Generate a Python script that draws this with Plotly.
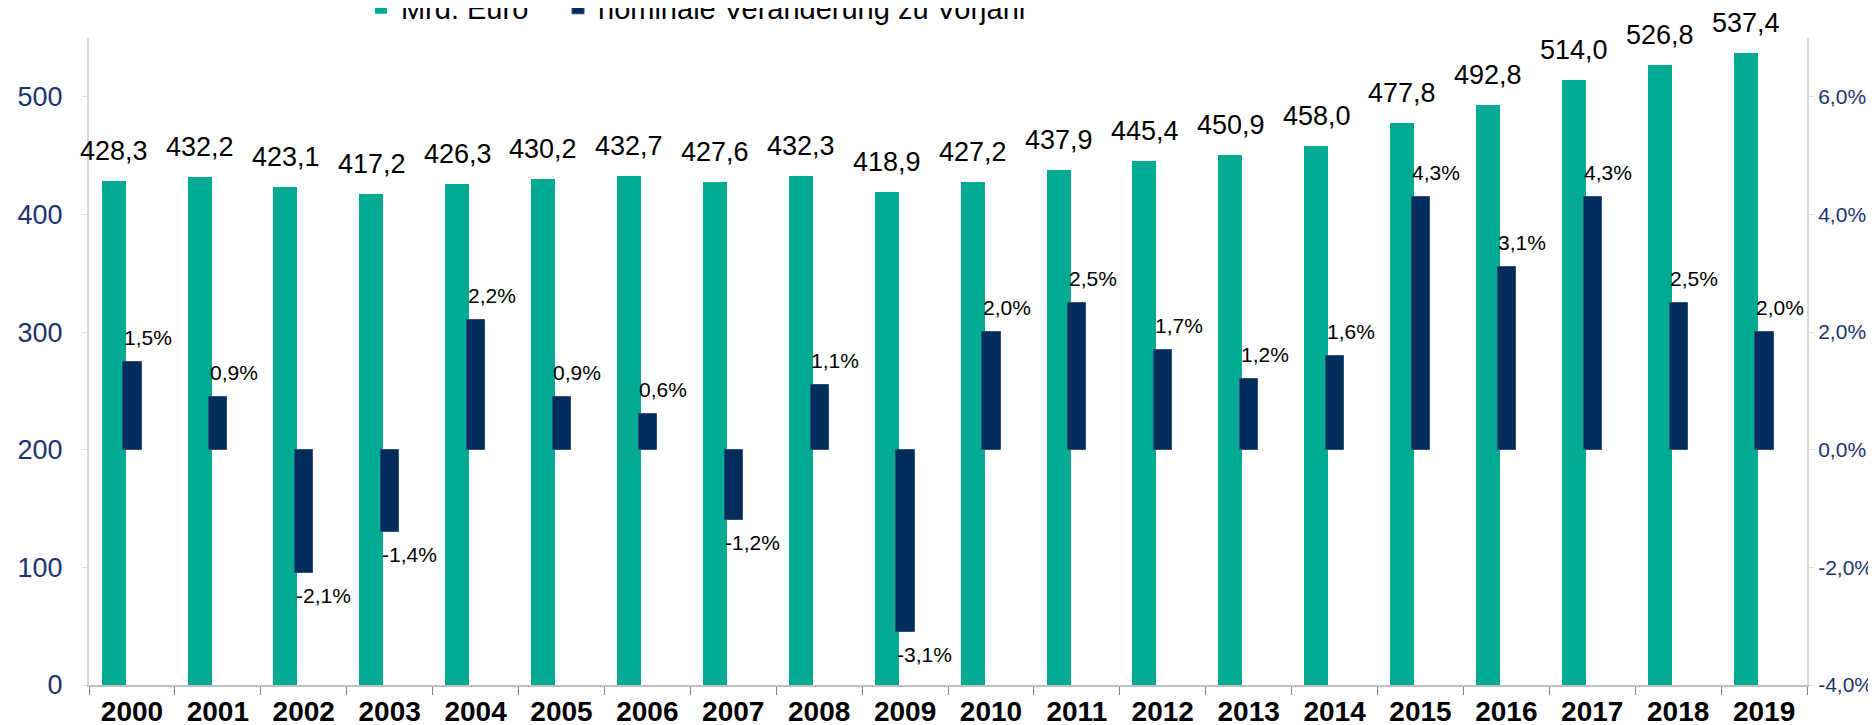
import plotly.graph_objects as go

years = ["2000", "2001", "2002", "2003", "2004", "2005", "2006", "2007", "2008", "2009",
         "2010", "2011", "2012", "2013", "2014", "2015", "2016", "2017", "2018", "2019"]
mrd_euro = [428.3, 432.2, 423.1, 417.2, 426.3, 430.2, 432.7, 427.6, 432.3, 418.9,
            427.2, 437.9, 445.4, 450.9, 458.0, 477.8, 492.8, 514.0, 526.8, 537.4]
veraenderung = [1.5, 0.9, -2.1, -1.4, 2.2, 0.9, 0.6, -1.2, 1.1, -3.1,
                2.0, 2.5, 1.7, 1.2, 1.6, 4.3, 3.1, 4.3, 2.5, 2.0]
left_ticks = [0, 100, 200, 300, 400, 500]
right_ticks = [-4, -2, 0, 2, 4, 6]
right_ticktext = ["-4,0%", "-2,0%", "0,0%", "2,0%", "4,0%", "6,0%"]

GREEN = "#00AA93"
NAVY = "#002D5B"
TICKBLUE = "#1B3470"
FONT = "Liberation Sans, Arial, sans-serif"


def de(v, d=1):
    return f"{v:.{d}f}".replace(".", ",")


fig = go.Figure()
fig.add_trace(go.Bar(
    x=years, y=mrd_euro, name="Mrd. Euro", marker=dict(color=GREEN, line=dict(width=0)),
    width=0.28, offset=-0.353, yaxis="y", legend="legend",
))
fig.add_trace(go.Bar(
    x=years, y=veraenderung, base=0, name="nominale Veränderung zu Vorjahr",
    marker=dict(color=NAVY, line=dict(width=1, color="#2F4F78")),
    width=0.212, offset=-0.1, yaxis="y2", legend="legend2",
))

annotations = []
for i, v in enumerate(mrd_euro):
    annotations.append(dict(
        x=i, y=v, xref="x", yref="y", text=de(v), showarrow=False,
        xanchor="center", yanchor="bottom", xshift=-18, yshift=13,
        font=dict(family=FONT, size=27, color="#000000"),
    ))
for i, v in enumerate(veraenderung):
    pos = v >= 0
    annotations.append(dict(
        x=i, y=v, xref="x", yref="y2", text=de(v) + "%", showarrow=False,
        xanchor="left", yanchor="bottom" if pos else "top",
        xshift=-10, yshift=11 if pos else -9,
        font=dict(family=FONT, size=21, color="#000000"),
    ))

legend_common = dict(
    orientation="h", xanchor="left", y=1.007, yanchor="bottom",
    font=dict(family=FONT, size=29, color="#000000"),
    bgcolor="rgba(0,0,0,0)", itemwidth=30,
)

fig.update_layout(
    width=1876, height=725,
    margin=dict(l=81, r=77, t=30, b=48, autoexpand=False),
    plot_bgcolor="white", paper_bgcolor="white",
    barmode="overlay", bargap=0,
    showlegend=True,
    legend=dict(x=0.1583, **legend_common),
    legend2=dict(x=0.2730, **legend_common),
    annotations=annotations,
    xaxis=dict(
        type="category", showline=True, linecolor="#BFBFBF", linewidth=2,
        ticks="outside", tickson="boundaries", ticklen=8, tickcolor="#808080", tickwidth=1,
        tickfont=dict(family=FONT, size=28, color="#000000", weight="bold"),
        showgrid=False, zeroline=False, range=[-0.5, 19.5],
    ),
    yaxis=dict(
        range=[0, 550], tickvals=left_ticks, showline=True, linecolor="#D9D9D9", linewidth=2,
        ticks="outside", ticklen=5, tickcolor="#D9D9D9",
        tickfont=dict(family=FONT, size=27, color=TICKBLUE),
        ticklabelstandoff=14, showgrid=False, zeroline=False,
    ),
    yaxis2=dict(
        range=[-4, 7], overlaying="y", side="right", tickvals=right_ticks, ticktext=right_ticktext,
        showline=True, linecolor="#D9D9D9", linewidth=2,
        ticks="outside", ticklen=5, tickcolor="#D9D9D9",
        tickfont=dict(family=FONT, size=21, color=TICKBLUE),
        ticklabelstandoff=0, showgrid=False, zeroline=False,
    ),
)

fig.write_html("out.html")
